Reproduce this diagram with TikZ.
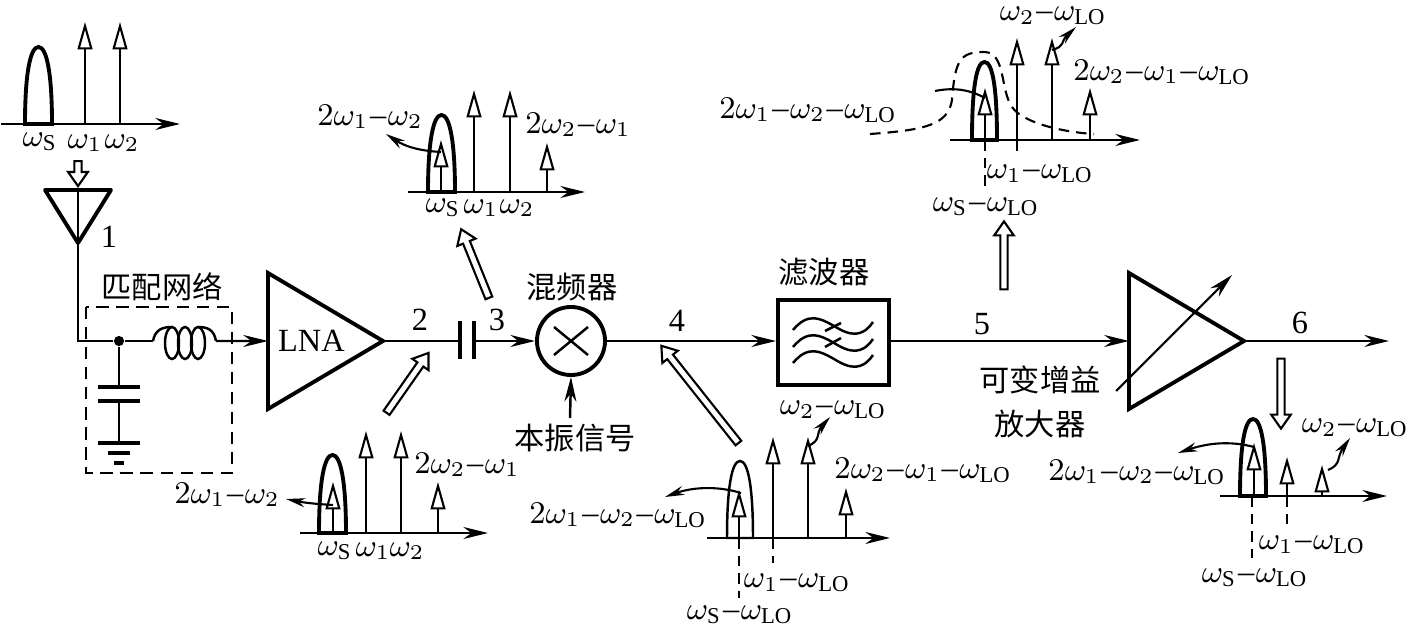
\documentclass[tikz,border=0pt]{standalone}
\usepackage{amsmath,amssymb}
\usepackage{fontspec}
\setmainfont{Liberation Serif}
\newfontfamily\cjk{Noto Sans CJK SC}
\usepackage{tikz}
\usetikzlibrary{positioning,arrows.meta,shapes.geometric,shapes.arrows}

\newcommand{\wLO}{\omega_{\mathrm{LO}}}
\newcommand{\wS}{\omega_{\mathrm{S}}}
\newcommand{\mn}{\mathord{\kern0.05em\text{–}\kern0.05em}}
% left, right, top, base
\newcommand{\bump}[5][]{\draw[bumpline,#1] (#2,#5) .. controls (#2,{#4+25}) and ({(#2+#3)/2-8},#4) .. ({(#2+#3)/2},#4)
  .. controls ({(#2+#3)/2+8},#4) and (#3,{#4+25}) .. (#3,#5) -- cycle;}

\begin{document}
\begin{tikzpicture}[
    x=0.01cm, y=-0.01cm,
    txt/.style={inner sep=0pt, font=\fontsize{9.2}{10}\selectfont},
    cn/.style={inner sep=0pt, font=\fontsize{8.6}{10}\selectfont\cjk},
    wire/.style={line width=0.7pt},
    sig/.style={line width=0.7pt, -{Stealth[length=7pt,width=3.4pt]}},
    small/.style={line width=0.6pt, -{Stealth[length=5.5pt,width=2.6pt]}},
    tone/.style={line width=0.6pt, -{Triangle[open,length=7.8pt,width=4.2pt]}},
    bumpline/.style={line width=1.1pt},
    plate/.style={line width=1.1pt},
    guide/.style={line width=0.6pt, densely dashed},
    amp/.style={draw, line width=1.1pt, isosceles triangle, isosceles triangle stretches, outer sep=0pt,
                shape border rotate=0, inner sep=0pt, minimum width=1.36cm, minimum height=1.15cm},
    bigarr/.style={draw, line width=0.6pt, single arrow, inner sep=0.7pt, single arrow tip angle=70,
                minimum width=5.6pt, single arrow head extend=1.7pt}
  ]
    \useasboundingbox (0,0) rectangle (1409,628);

    % receiver chain
    \coordinate (ant) at (78,190);
    \coordinate (antl) at (45,190);
    \coordinate (antr) at (111,190);
    \coordinate (anttip) at (78,243);
    \draw[plate, line join=round] (antl) -- (antr) -- (anttip) -- cycle;
    \coordinate (corner) at (78,341);
    \node[circle, fill, inner sep=0pt, minimum size=2.9pt] (junc) at (119,341) {};
    \coordinate (coila) at (153,341);
    \coordinate (coilb) at (216,341);
    \node[amp, anchor=apex, font=\fontsize{9.2}{10}\selectfont] (lna) at (383,341) {LNA};
    \node[circle, draw, line width=1.1pt, minimum size=0.68cm, inner sep=0pt] (mixer) at (571,341) {};
    \node[draw, line width=1.1pt, minimum width=1.11cm, minimum height=0.85cm, inner sep=0pt] (filter) at (833.5,342.5) {};
    \node[amp, anchor=apex] (vga) at (1244,341) {};
    \coordinate (out) at (1389,341);
    \coordinate (capa) at (460,341);
    \coordinate (capb) at (474,341);
    \coordinate (lo) at (570,418);

    \draw[wire] (ant) -- (corner) -- (junc) -- (coila);
    \draw[wire] (coila) .. controls (155,330) and (162,327) .. (172,327);
    \draw[wire] (198,327) .. controls (208,327) and (214,330) .. (coilb);
    \foreach \x in {172,185,198}
      \draw[wire] (\x,343) ellipse [x radius=7, y radius=16];
    \draw[sig] (coilb) -- (lna.west);
    \draw[wire] (lna.apex) -- (capa);
    \draw[plate] (460,321) -- (460,359);
    \draw[plate] (474,321) -- (474,359);
    \draw[sig] (capb) -- (mixer.west);
    \draw[sig] (mixer.east) -- (filter.west |- mixer.east);
    \draw[sig] (filter.east |- vga.west) -- (vga.west);
    \draw[sig] (vga.apex) -- (out);
    \draw[sig] (lo) -- (mixer.south);
    \draw[wire] (554,327) -- (588,355) (588,327) -- (554,355);
    \draw[sig, line width=0.6pt] (1116,391) -- (1232,275);

    % filter symbol
    \foreach \d in {0,17,33}
      \draw[wire] (793,{330+\d}) .. controls (808,{312+\d}) and (820,{318+\d}) .. (834,{326+\d})
        .. controls (850,{336+\d}) and (862,{338+\d}) .. (873,{322+\d});
    \draw[wire] (825,331) -- (841,323) (825,347) -- (841,338);

    % matching network
    \draw[wire] (junc) -- (119,387);
    \draw[plate] (98,387) -- (140,387);
    \draw[plate] (98,401) -- (140,401);
    \draw[wire] (119,401) -- (119,443);
    \draw[plate] (98,443) -- (140,443);
    \draw[plate] (108,453) -- (130,453);
    \draw[plate] (114,463) -- (124,463);
    \draw[wire, dash pattern=on 3.5pt off 2.2pt] (86,307) rectangle (232,473);

    \node[cn] (matchlbl) at (162,287) {匹配网络};
    \node[cn] (mixlbl) at (572,287) {混频器};
    \node[cn] (lolbl) at (575,438) {本振信号};
    \node[cn] (filtlbl) at (824,272) {滤波器};
    \node[cn] (vgalbla) at (1040,380) {可变增益};
    \node[cn] (vgalblb) at (1040,424) {放大器};
    \node[txt] (n1) at (109,237) {1};
    \node[txt] (n2) at (420,320) {2};
    \node[txt] (n3) at (497,320) {3};
    \node[txt] (n4) at (677,321) {4};
    \node[txt] (n5) at (982,324) {5};
    \node[txt] (n6) at (1300,323) {6};

    % hollow arrows
    \node[bigarr, rotate=-90, minimum height=0.25cm] (ha) at (78,171) {};
    \node[bigarr, rotate=112, minimum height=0.74cm] (hb) at (476,266) {};
    \node[bigarr, rotate=55, minimum height=0.73cm] (hc) at (406,385) {};
    \node[bigarr, rotate=128.4, minimum height=1.24cm] (hd) at (701.5,396.5) {};
    \node[bigarr, rotate=90, minimum height=0.68cm] (he) at (1004,258) {};
    \node[bigarr, rotate=-90, minimum height=0.70cm] (hf) at (1281,391) {};

    % spectrum at antenna
    \draw[sig] (1,124) -- (180,124);
    \bump{25}{52}{47}{124}
    \foreach \x/\t in {85/22,120/22} \draw[tone] (\x,124) -- (\x,\t);
    \node[txt] (sa) at (40,142) {$\wS$};
    \node[txt] (sb) at (85,143) {$\omega_1$};
    \node[txt] (sc) at (122,143) {$\omega_2$};

    % spectrum after LNA
    \draw[sig] (300,533) -- (488,533);
    \bump{319}{346}{455}{533}
    \foreach \x/\t in {333/482,366/431,401/431,438/482} \draw[tone] (\x,533) -- (\x,\t);
    \node[txt] (sd) at (335,551) {$\wS$};
    \node[txt] (se) at (373,551) {$\omega_1$};
    \node[txt] (sf) at (407,551) {$\omega_2$};
    \node[txt] (sg) at (467,465) {$2\omega_2\mn\omega_1$};
    \node[txt] (sh) at (227,495) {$2\omega_1\mn\omega_2$};
    \draw[small] (333,505) to[bend left=4] (286,499);

    % spectrum after capacitor
    \draw[sig] (408,192) -- (585,192);
    \bump{428}{455}{115}{192}
    \foreach \x/\t in {441/140,474/90,510/90,547/143} \draw[tone] (\x,192) -- (\x,\t);
    \node[txt] (si) at (443,208) {$\wS$};
    \node[txt] (sj) at (481,208) {$\omega_1$};
    \node[txt] (sk) at (517,208) {$\omega_2$};
    \node[txt] (sl) at (370,117) {$2\omega_1\mn\omega_2$};
    \node[txt] (sm) at (578,125) {$2\omega_2\mn\omega_1$};
    \draw[small] (441,152) to[bend left=15] (386,134);

    % spectrum after mixer
    \draw[sig] (707,538) -- (890,538);
    \bump[line width=0.7pt]{727}{753}{461}{538}
    \foreach \x/\t in {739/490,773/437,808/437,846/488} \draw[tone] (\x,538) -- (\x,\t);
    \draw[guide] (739,538) -- (739,598);
    \draw[guide] (773,538) -- (773,563);
    \node[txt] (sn) at (797,583) {$\omega_1\mn\wLO$};
    \node[txt] (so) at (740,615) {$\wS\mn\wLO$};
    \node[txt] (sp) at (833,410) {$\omega_2\mn\wLO$};
    \node[txt] (sq) at (923,470) {$2\omega_2\mn\omega_1\mn\wLO$};
    \node[txt] (sr) at (618,515) {$2\omega_1\mn\omega_2\mn\wLO$};
    \draw[small] (741,493) .. controls (715,485) and (690,488) .. (665,497);
    \draw[small] (808,446) .. controls (822,440) and (815,434) .. (830,417);

    % spectrum after filter
    \draw[sig] (950,140) -- (1140,140);
    \bump{972}{997}{62}{140}
    \foreach \x/\t in {985/88,1017/38,1052/38,1090/88} \draw[tone] (\x,140) -- (\x,\t);
    \draw[guide] (985,140) -- (985,188);
    \draw[guide] (1017,140) -- (1017,153);
    \node[txt] (ss) at (1040,174) {$\omega_1\mn\wLO$};
    \node[txt] (st) at (986,207) {$\wS\mn\wLO$};
    \node[txt] (su) at (1053,16) {$\omega_2\mn\wLO$};
    \node[txt] (sv) at (1162,72) {$2\omega_2\mn\omega_1\mn\wLO$};
    \node[txt] (sw) at (808,110) {$2\omega_1\mn\omega_2\mn\wLO$};
    \draw[line width=0.6pt] (935,91) .. controls (955,87) and (970,90) .. (985,98);
    \draw[small] (1052,50) .. controls (1066,46) and (1060,42) .. (1076,27);
    \draw[guide] (870,134) .. controls (925,130) and (948,125) .. (952,100)
       .. controls (955,60) and (960,52) .. (984,52) .. controls (1006,52) and (1000,90) .. (1012,107)
       .. controls (1022,122) and (1060,132) .. (1094,134);

    % spectrum after amplifier
    \draw[sig] (1220,496) -- (1387,496);
    \bump{1240}{1266}{419}{496}
    \foreach \x/\t in {1254/443,1287/457,1322/465} \draw[tone] (\x,496) -- (\x,\t);
    \draw[guide] (1252,496) -- (1252,558);
    \draw[guide] (1287,496) -- (1287,528);
    \node[txt] (sx) at (1312,545) {$\omega_1\mn\wLO$};
    \node[txt] (sy) at (1255,578) {$\wS\mn\wLO$};
    \node[txt] (sz) at (1355,428) {$\omega_2\mn\wLO$};
    \node[txt] (tb) at (1137,472) {$2\omega_1\mn\omega_2\mn\wLO$};
    \draw[small] (1254,447) .. controls (1228,440) and (1205,444) .. (1178,453);
    \draw[small] (1328,470) .. controls (1342,464) and (1336,458) .. (1350,438);
  \end{tikzpicture}
\end{document}
